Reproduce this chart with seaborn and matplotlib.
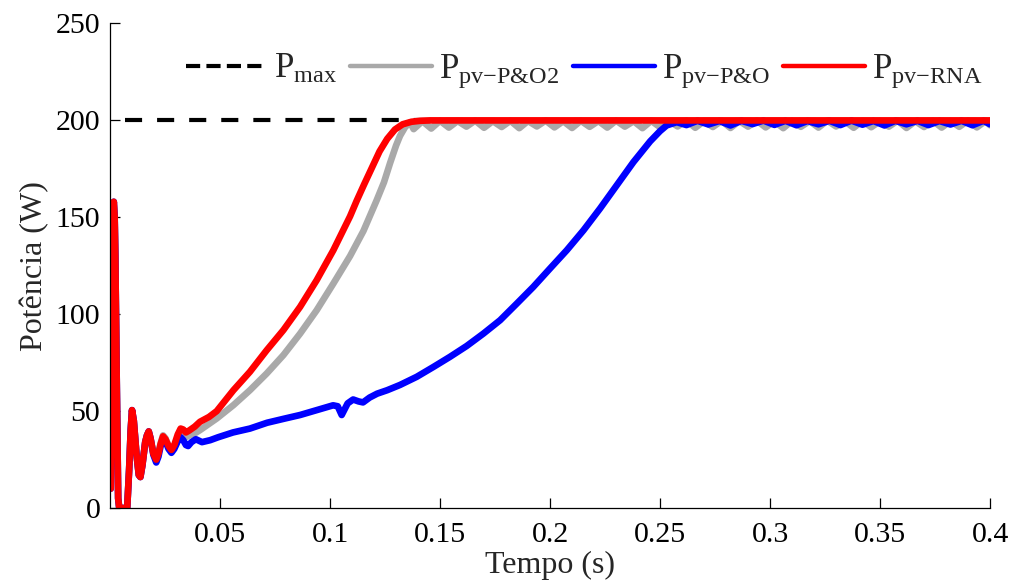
import numpy as np
import pandas as pd
import matplotlib
matplotlib.use("Agg")
import matplotlib.pyplot as plt
from matplotlib.lines import Line2D
from matplotlib.mathtext import MathTextParser
import seaborn as sns

# ---------------------------------------------------------------- data
# shared start-up transient (all three trackers behave alike here)
t_start = [0.0003, 0.0010, 0.0014, 0.0017, 0.0021, 0.0024, 0.0031, 0.0037, 0.0042,
           0.0078, 0.0087, 0.0094, 0.0100, 0.0108, 0.0120, 0.0131, 0.0138, 0.0147,
           0.0160, 0.0168, 0.0176, 0.0184]
p_start = [10, 90, 150, 158, 150, 130, 60, 5, 0,
           0, 20, 40, 50.5, 45, 28, 17, 16, 22,
           34, 37.5, 39.5, 36]

# P&O2 (grey)
t_po2 = [0.0197, 0.0210, 0.0220, 0.0230, 0.0241, 0.0252, 0.0266, 0.0279, 0.0292,
         0.0308, 0.0321, 0.0333, 0.0345, 0.0360, 0.0385, 0.0409, 0.0485, 0.0561,
         0.0636, 0.0712, 0.0788, 0.0864, 0.0939, 0.1015, 0.1091, 0.1152, 0.1212,
         0.1245, 0.1273, 0.1300, 0.1318, 0.1341, 0.1364,
         0.138, 0.142, 0.146, 0.150, 0.154, 0.158, 0.162, 0.166, 0.170, 0.174,
         0.178, 0.182, 0.186, 0.190, 0.194, 0.198, 0.202, 0.206, 0.210, 0.214,
         0.218, 0.222, 0.226, 0.230, 0.234, 0.238, 0.242, 0.246, 0.250, 0.254,
         0.258, 0.262, 0.266, 0.270, 0.274, 0.278, 0.282, 0.286, 0.290, 0.294,
         0.298, 0.302, 0.306, 0.310, 0.314, 0.318, 0.322, 0.326, 0.330, 0.334,
         0.338, 0.342, 0.346, 0.350, 0.354, 0.358, 0.362, 0.366, 0.370, 0.374,
         0.378, 0.382, 0.386, 0.390, 0.394, 0.398, 0.400]
p_po2 = [28.5, 25.5, 28.5, 33.5, 37.5, 36, 32, 30, 32,
         36.5, 38.5, 37.5, 36.5, 37.5, 38.5, 40.2, 46.2, 53.1,
         60.8, 69.4, 78.9, 90, 102, 115.8, 130, 143, 158.8,
         168, 178, 187, 192, 196.5, 199,
         195.5, 199.6, 195.8, 199.8, 196.3, 199.7, 196.8, 199.9, 196.2, 199.6,
         196.6, 199.8, 196.0, 199.7, 196.9, 199.9, 196.4, 199.6, 196.1, 199.8,
         196.7, 199.7, 196.3, 199.9, 196.8, 199.6, 196.0, 199.8, 196.5, 199.7,
         196.9, 199.9, 196.2, 199.6, 196.6, 199.8, 196.1, 199.7, 196.8, 199.9,
         196.4, 199.6, 196.0, 199.8, 196.7, 199.7, 196.3, 199.9, 196.9, 199.6,
         196.2, 199.8, 196.5, 199.7, 196.8, 199.9, 196.1, 199.6, 196.6, 199.8,
         196.3, 199.7, 196.7, 199.9, 196.4, 199.8, 197.5]

# P&O (blue)
t_po = [0.0197, 0.0210, 0.0220, 0.0230, 0.0241, 0.0252, 0.0266, 0.0279, 0.0292,
        0.0308, 0.0321, 0.0333, 0.0345, 0.0355, 0.0370, 0.0390, 0.0418, 0.0455,
        0.0491, 0.0559, 0.0636, 0.0714, 0.0788, 0.0864, 0.0939, 0.1014, 0.1035,
        0.1053, 0.1080, 0.1105, 0.1130, 0.1150, 0.1180, 0.1214, 0.1260, 0.1318,
        0.1394, 0.1470, 0.1545, 0.1621, 0.1697, 0.1773, 0.1849, 0.1924, 0.2000,
        0.2076, 0.2152, 0.2227, 0.2303, 0.2379, 0.2455, 0.2500, 0.2530, 0.2576,
        0.262, 0.267, 0.272, 0.277, 0.282, 0.287, 0.292, 0.297, 0.302, 0.307,
        0.312, 0.317, 0.322, 0.327, 0.332, 0.337, 0.342, 0.347, 0.352, 0.357,
        0.362, 0.367, 0.372, 0.377, 0.382, 0.387, 0.392, 0.397, 0.400]
p_po = [27.5, 23.5, 26.5, 32, 36, 34.5, 30.5, 28.5, 30.5,
        34.5, 36.5, 35, 32.5, 32, 34, 35.5, 34, 35,
        36.5, 39, 41, 44, 46, 48, 50.5, 53, 52.5,
        48, 54, 56, 55, 54.5, 57, 59, 60.8, 63.5,
        67.7, 72.8, 78, 83.6, 90, 96.9, 105.5, 114.1, 123.6,
        133, 143.3, 154.5, 166.5, 178.5, 189.2, 194.5, 197.4, 199.1,
        197.6, 199.8, 197.9, 199.7, 197.4, 199.8, 198.1, 199.9, 197.7, 199.8,
        197.5, 199.7, 198.0, 199.8, 197.6, 199.9, 197.8, 199.7, 197.4, 199.8,
        198.0, 199.8, 197.6, 199.7, 197.9, 199.8, 197.5, 199.8, 198.0]

# RNA (red)
t_rna = [0.0197, 0.0210, 0.0220, 0.0230, 0.0241, 0.0252, 0.0266, 0.0279, 0.0292,
         0.0308, 0.0321, 0.0333, 0.0345, 0.0360, 0.0385, 0.0409, 0.0450, 0.0485,
         0.0561, 0.0636, 0.0712, 0.0788, 0.0864, 0.0939, 0.1015, 0.1091, 0.1121,
         0.1155, 0.1190, 0.1225, 0.1260, 0.1295, 0.1330, 0.1370, 0.1410, 0.1455,
         0.2000, 0.3000, 0.4000]
p_rna = [28, 25, 28, 33, 37, 35.5, 32, 30, 32.5,
         38, 41, 40.5, 39, 40, 42, 44.5, 47, 50,
         60.8, 70.3, 81.4, 91.8, 103.8, 117.5, 133, 150.5, 158.5,
         167, 175.5, 184, 190.5, 195.3, 198, 199.3, 199.8, 200,
         200, 200, 200]

p_max = 200
x_ticks = [0.05, 0.1, 0.15, 0.2, 0.25, 0.3, 0.35, 0.4]
x_ticklabels = ["0.05", "0.1", "0.15", "0.2", "0.25", "0.3", "0.35", "0.4"]
y_ticks = [0, 50, 100, 150, 200, 250]

subscripts = ["max", "pv\u2212P&O2", "pv\u2212P&O", "pv\u2212RNA"]
colors = {"po2": "#a9a9a9", "po": "#0000ff", "rna": "#ff0000"}


def series(t_tail, p_tail, name):
    return pd.DataFrame({"t": t_start + t_tail, "p": p_start + p_tail, "serie": name})


df = pd.concat([series(t_po2, p_po2, "po2"),
                series(t_po, p_po, "po"),
                series(t_rna, p_rna, "rna")], ignore_index=True)

# ---------------------------------------------------------------- style
sns.set_style("ticks")
plt.rcParams["font.family"] = ["Liberation Serif", "DejaVu Serif"]
plt.rcParams["mathtext.fontset"] = "custom"
plt.rcParams["mathtext.rm"] = "Liberation Serif"
plt.rcParams["mathtext.it"] = "Liberation Serif"
plt.rcParams["mathtext.bf"] = "Liberation Serif:bold"


def subscript_label(sub):
    """'P' with an upright subscript; falls back through mathtext forms."""
    parser = MathTextParser("agg")
    for form in (r"$P_{\text{%s}}$", r"$P_{%s}$"):
        s = form % sub
        try:
            parser.parse(s)
            return s
        except Exception:
            continue
    return "P " + sub


labels = [subscript_label(s) for s in subscripts]

fig = plt.figure(figsize=(10.14, 5.83), dpi=100)
ax = fig.add_axes([0.1085, 0.1286, 0.8679, 0.8311])

lw = 4.8
# reference power, dashed
ax.plot([0, 0.4], [p_max, p_max], color="black", lw=3.0,
        linestyle=(4.1, (4.1, 3.6)), zorder=1)
for name in ["po2", "po", "rna"]:
    sns.lineplot(data=df[df.serie == name], x="t", y="p", estimator=None,
                 sort=False, color=colors[name], lw=lw, ax=ax, legend=False,
                 zorder=2)

ax.set_xlim(0, 0.4)
ax.set_ylim(0, 250)
ax.set_xticks(x_ticks)
ax.set_xticklabels(x_ticklabels)
ax.set_yticks(y_ticks)
ax.tick_params(direction="in", length=7, width=0.9, labelsize=21.5,
               colors="black")
ax.tick_params(axis="x", pad=10)
ax.tick_params(axis="y", pad=7)
for s in ["top", "right"]:
    ax.spines[s].set_visible(False)
for s in ["left", "bottom"]:
    ax.spines[s].set_linewidth(0.9)
    ax.spines[s].set_color("black")

ax.set_xlabel("Tempo (s)", fontsize=23, labelpad=2)
ax.set_ylabel("Potência (W)", fontsize=23, labelpad=5)

handles = [Line2D([], [], color="black", lw=3.0, linestyle=(0, (3.4, 1.5))),
           Line2D([], [], color=colors["po2"], lw=3.2),
           Line2D([], [], color=colors["po"], lw=3.2),
           Line2D([], [], color=colors["rna"], lw=3.2)]
ax.legend(handles, labels, ncol=4, frameon=False, loc="center",
          bbox_to_anchor=(0.576, 0.877), bbox_transform=fig.transFigure,
          handlelength=2.36, handletextpad=0.2, columnspacing=0.38,
          fontsize=25, borderaxespad=0, borderpad=0)

fig.savefig("out.png", dpi=100)
